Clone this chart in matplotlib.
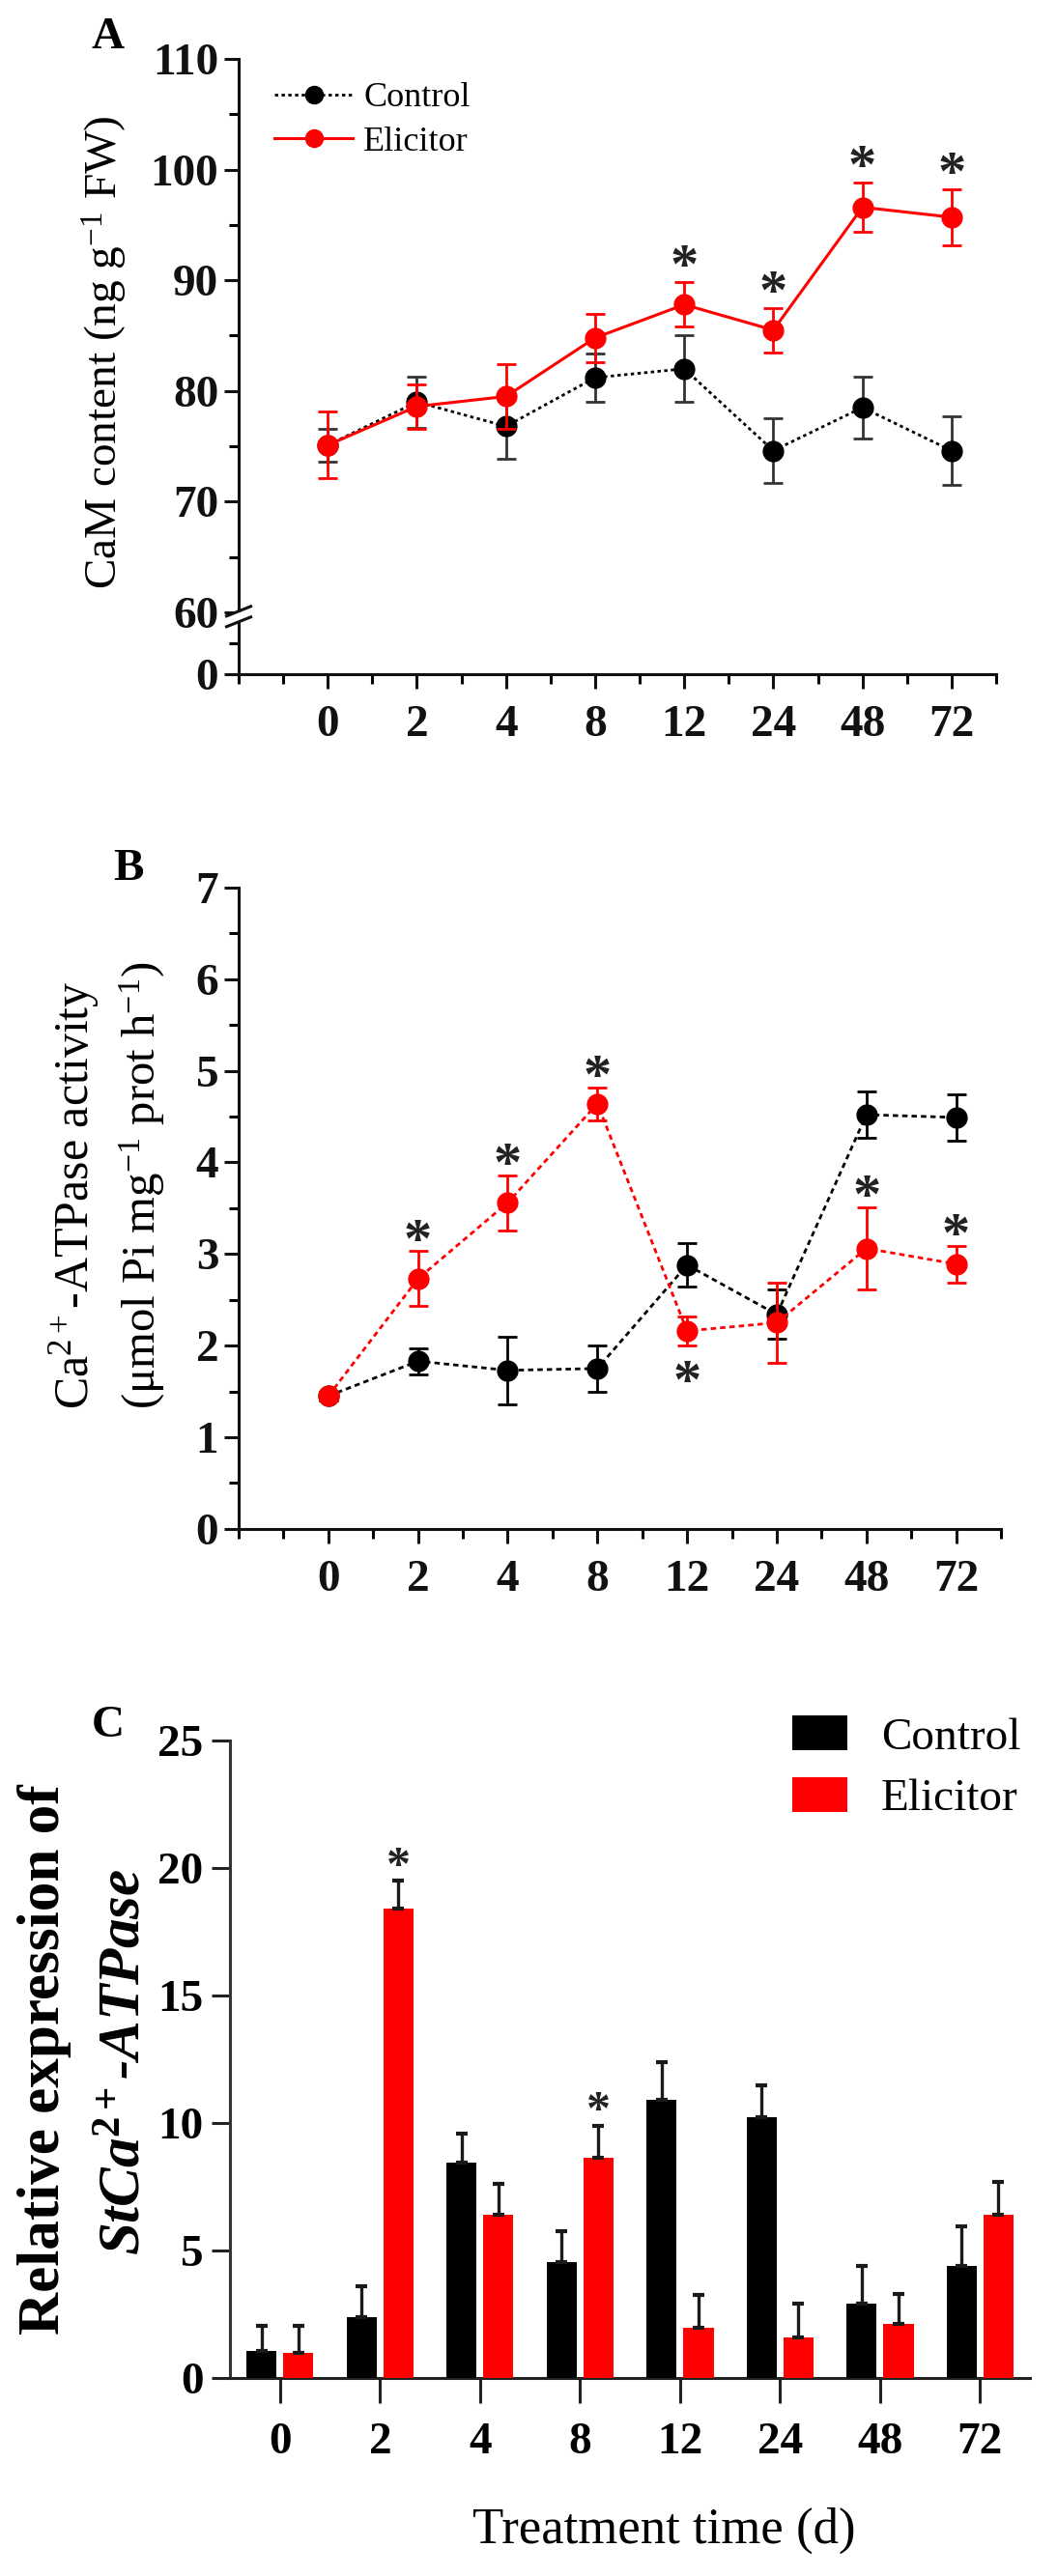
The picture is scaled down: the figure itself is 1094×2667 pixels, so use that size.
import numpy as np
import matplotlib
matplotlib.use('Agg')
import matplotlib.pyplot as plt
from matplotlib.lines import Line2D
from matplotlib.patches import Patch, Rectangle

plt.rcParams['font.family'] = ['Liberation Serif', 'DejaVu Serif']
plt.rcParams['mathtext.fontset'] = 'custom'
plt.rcParams['mathtext.rm'] = 'Liberation Serif'
plt.rcParams['mathtext.it'] = 'Liberation Serif:italic'
plt.rcParams['mathtext.bf'] = 'Liberation Serif:bold'
plt.rcParams['mathtext.bfit'] = 'Liberation Serif:italic:bold'
plt.rcParams['lines.scale_dashes'] = False

# ---------------- data ----------------
times = ['0', '2', '4', '8', '12', '24', '48', '72']

cam_control = [75.1, 79.0, 76.8, 81.2, 82.0, 74.6, 78.5, 74.6]
cam_control_err = [1.5, 2.3, 2.9, 2.2, 3.0, 2.9, 2.8, 3.1]
cam_elicitor = [75.1, 78.6, 79.5, 84.8, 87.8, 85.5, 96.6, 95.7]
cam_elicitor_err = [3.0, 2.0, 2.9, 2.2, 2.0, 2.0, 2.2, 2.5]
cam_star_idx = [4, 5, 6, 7]

atp_control = [1.45, 1.83, 1.73, 1.75, 2.88, 2.34, 4.52, 4.49]
atp_control_err = [0.05, 0.14, 0.37, 0.25, 0.24, 0.27, 0.25, 0.25]
atp_elicitor = [1.45, 2.73, 3.56, 4.64, 2.16, 2.25, 3.06, 2.89]
atp_elicitor_err = [0.05, 0.30, 0.30, 0.18, 0.16, 0.44, 0.45, 0.20]
atp_star_above = [1, 2, 3, 6, 7]
atp_star_below = [4]

expr_control = [1.05, 2.38, 8.44, 4.55, 10.9, 10.23, 2.9, 4.4]
expr_control_err = [0.98, 1.2, 1.16, 1.2, 1.5, 1.24, 1.5, 1.54]
expr_elicitor = [1.0, 18.4, 6.39, 8.62, 1.98, 1.6, 2.1, 6.39]
expr_elicitor_err = [1.03, 1.1, 1.23, 1.28, 1.26, 1.3, 1.2, 1.3]
expr_star_idx = [1, 3]

RED = '#ff0000'
x = np.arange(len(times))

fig = plt.figure(figsize=(10.94, 26.67), dpi=100)


def style_axes(ax, lw=2.2):
    for s in ['top', 'right']:
        ax.spines[s].set_visible(False)
    for s in ['left', 'bottom']:
        ax.spines[s].set_linewidth(lw)
        ax.spines[s].set_color('#111111')


def star(ax, xv, yv, dy_pt, size=42):
    ax.annotate('*', xy=(xv, yv), xytext=(0, dy_pt), textcoords='offset points',
                ha='center', va='baseline', fontsize=size, fontweight='bold',
                color='#222222', annotation_clip=False)


# ---------------- Panel A ----------------
axA = fig.add_axes([0.2258, 0.7383, 0.7166, 0.2388])
L = 5.6


def fwd(y):
    y = np.asarray(y, float)
    return np.where(y < 60, y * L / 60.0, y - 60 + L)


def inv(v):
    v = np.asarray(v, float)
    return np.where(v < L, v * 60.0 / L, v + 60 - L)


axA.set_yscale('function', functions=(fwd, inv))
axA.set_ylim(0, 110)
axA.set_xlim(-1, 7.5)

axA.errorbar(x, cam_control, yerr=cam_control_err, color='black', ecolor='#333333',
             linestyle=(0, (2.5, 2.5)), linewidth=2, marker='o', markersize=15,
             elinewidth=2, capsize=7, capthick=2, zorder=3)
axA.errorbar(x, cam_elicitor, yerr=cam_elicitor_err, color=RED, ecolor=RED,
             linestyle='-', linewidth=2.2, marker='o', markersize=15,
             elinewidth=2, capsize=7, capthick=2, zorder=4)
for i in cam_star_idx:
    star(axA, x[i], cam_elicitor[i] + cam_elicitor_err[i], 0)

axA.set_yticks([0, 60, 70, 80, 90, 100, 110])
axA.set_yticklabels(['0', '60', '70', '80', '90', '100', '110'])
axA.set_yticks([30, 65, 75, 85, 95, 105], minor=True)
axA.set_xticks(x)
axA.set_xticklabels(times)
axA.set_xticks([-1, -0.5, 0.5, 1.5, 2.5, 3.5, 4.5, 5.5, 6.5, 7.5], minor=True)
style_axes(axA)
axA.tick_params(axis='both', which='major', length=11, width=2.2, direction='out',
                labelsize=34, colors='#111111')
axA.tick_params(axis='both', which='minor', length=7, width=2.2, direction='out')
axA.tick_params(axis='x', which='major', pad=12)
axA.tick_params(axis='y', which='major', pad=4)
for t in axA.get_xticklabels() + axA.get_yticklabels():
    t.set_fontweight('bold')

# axis break marks
yf = L / (L + 50)
hA = 0.2388 * 2667
axA.add_patch(Rectangle((-0.008, yf - 9 / hA), 0.016, 9 / hA, transform=axA.transAxes,
                        facecolor='white', edgecolor='none', clip_on=False, zorder=5))
for yc in [yf + 1 / hA, yf - 10 / hA]:
    axA.plot([-0.016, 0.016], [yc - 5 / hA, yc + 5 / hA], transform=axA.transAxes,
             color='#111111', lw=2.2, clip_on=False, zorder=6)

axA.legend(handles=[
    Line2D([], [], color='black', linestyle=(0, (2.5, 2.5)), lw=2, marker='o', markersize=13),
    Line2D([], [], color=RED, linestyle='-', lw=2.2, marker='o', markersize=13)],
    labels=['Control', 'Elicitor'], loc='upper left', bbox_to_anchor=(0.2596, 0.9681),
    bbox_transform=fig.transFigure, frameon=False, fontsize=26, handlelength=2.25,
    handletextpad=0.3, labelspacing=0.33, borderpad=0, borderaxespad=0)

# ---------------- Panel B ----------------
axB = fig.add_axes([0.2258, 0.4065, 0.7212, 0.2490])
axB.set_ylim(0, 7)
axB.set_xlim(-1, 7.5)
axB.errorbar(x, atp_control, yerr=atp_control_err, color='black', ecolor='black',
             linestyle=(0, (4, 3)), linewidth=2, marker='o', markersize=15,
             elinewidth=2, capsize=7, capthick=2, zorder=3)
axB.errorbar(x, atp_elicitor, yerr=atp_elicitor_err, color=RED, ecolor=RED,
             linestyle=(0, (4, 3)), linewidth=2, marker='o', markersize=15,
             elinewidth=2, capsize=7, capthick=2, zorder=4)
for i in atp_star_above:
    star(axB, x[i], atp_elicitor[i] + atp_elicitor_err[i], -4)
for i in atp_star_below:
    star(axB, x[i], atp_elicitor[i] - atp_elicitor_err[i], -39)

axB.set_yticks(range(8))
axB.set_yticks(np.arange(0.5, 7, 1.0), minor=True)
axB.set_xticks(x)
axB.set_xticklabels(times)
axB.set_xticks([-1, -0.5, 0.5, 1.5, 2.5, 3.5, 4.5, 5.5, 6.5, 7.5], minor=True)
style_axes(axB)
axB.tick_params(axis='both', which='major', length=11, width=2.2, direction='out',
                labelsize=34, colors='#111111')
axB.tick_params(axis='both', which='minor', length=7, width=2.2, direction='out')
axB.tick_params(axis='x', which='major', pad=12)
axB.tick_params(axis='y', which='major', pad=4)
for t in axB.get_xticklabels() + axB.get_yticklabels():
    t.set_fontweight('bold')

# ---------------- Panel C ----------------
axC = fig.add_axes([0.2176, 0.0769, 0.7569, 0.2474])
axC.set_ylim(0, 25)
axC.set_xlim(-0.5, 7.5)
w = 0.3
ekw = dict(ecolor='#1a1a1a', elinewidth=2.4, capsize=4.5, capthick=3)
axC.bar(x - 0.185, expr_control, w, color='black',
        yerr=[np.zeros(len(x)), expr_control_err], error_kw=ekw, label='Control', zorder=3)
axC.bar(x + 0.185, expr_elicitor, w, color=RED,
        yerr=[np.zeros(len(x)), expr_elicitor_err], error_kw=ekw, label='Elicitor', zorder=3)
for i in expr_star_idx:
    star(axC, x[i] + 0.185, expr_elicitor[i] + expr_elicitor_err[i], 1, size=36)

axC.set_yticks([0, 5, 10, 15, 20, 25])
axC.set_xticks(x)
axC.set_xticklabels(times)
style_axes(axC, lw=2.2)
axC.spines['left'].set_color('#333333')
axC.spines['bottom'].set_color('#222222')
axC.tick_params(axis='y', which='major', length=14, width=2.2, direction='out',
                labelsize=34, pad=6, colors='#222222')
axC.tick_params(axis='x', which='major', length=19, width=2.2, direction='out',
                labelsize=34, pad=14, colors='#222222')
for t in axC.get_xticklabels() + axC.get_yticklabels():
    t.set_fontweight('bold')
    t.set_color('black')

axC.legend(handles=[Patch(facecolor='black'), Patch(facecolor=RED)],
           labels=['Control', 'Elicitor'], loc='upper left',
           bbox_to_anchor=(0.7495, 0.3340), bbox_transform=fig.transFigure,
           frameon=False, fontsize=34, handlelength=1.2, handleheight=0.8,
           handletextpad=0.75, labelspacing=0.4, borderpad=0, borderaxespad=0)

# ---------------- labels ----------------
fig.text(0.1024, 0.9854, 'A', fontsize=34, fontweight='bold', ha='center', va='center')
fig.text(0.1216, 0.6625, 'B', fontsize=34, fontweight='bold', ha='center', va='center')
fig.text(0.1024, 0.3300, 'C', fontsize=34, fontweight='bold', ha='center', va='center')

fig.text(0.0996, 0.8631, 'CaM content (ng g$^{-1}$ FW)', fontsize=34,
         rotation=90, ha='center', va='center')
fig.text(0.0704, 0.4529, 'Ca$^{2+}$-ATPase activity', fontsize=36,
         rotation=90, ha='center', va='bottom')
fig.text(0.1344, 0.4529, '(\u03bcmol Pi mg$^{-1}$ prot h$^{-1}$)', fontsize=35,
         rotation=90, ha='center', va='bottom')
fig.text(0.0420, 0.2006, 'Relative expression of', fontsize=44, fontweight='bold',
         rotation=90, ha='center', va='center')
fig.text(0.1188, 0.1995, r'$\mathbfit{StCa}^{\mathbf{2+}}$-$\mathbfit{ATPase}$',
         fontsize=44, fontweight='bold', fontstyle='italic',
         rotation=90, ha='center', va='center')
fig.text(0.628, 0.0176, 'Treatment time (d)', fontsize=38, ha='center', va='center')

fig.savefig('out.png', dpi=100, facecolor='white')
